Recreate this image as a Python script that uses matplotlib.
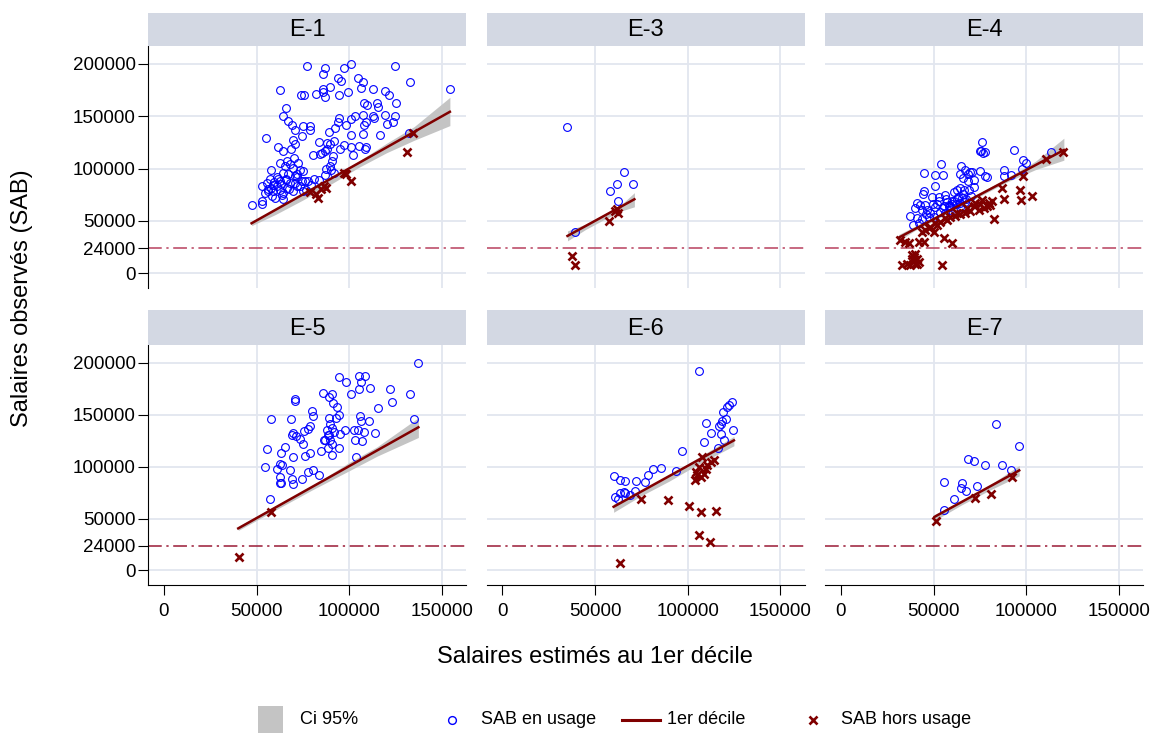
import numpy as np
import matplotlib
matplotlib.use("Agg")
import matplotlib.pyplot as plt
from matplotlib.patches import Rectangle

plt.rcParams['font.family'] = ['Liberation Sans', 'DejaVu Sans']

# ---- data (values in thousands) ----
panels = ['E-1', 'E-3', 'E-4', 'E-5', 'E-6', 'E-7']

# E-1
e1_in_x = [77.1, 87.0, 85.8, 96.9, 100.9, 124.7, 94.1, 95.3, 104.9, 107.6, 132.6, 154.3, 62.4, 74.1, 75.7, 81.8,
           85.8, 86.7, 89.7, 85.8, 94.4, 99.3, 106.3, 112.8, 119.5, 121.6, 108.0, 109.8, 115.0, 115.5, 125.4, 66.0,
           64.2, 66.7, 69.0, 75.0, 78.8, 78.9, 70.8, 94.6, 93.7, 92.1, 89.2, 98.0, 100.7, 103.3, 107.2, 108.9, 108.0,
           107.2, 112.6, 113.4, 119.5, 124.5, 123.5, 120.4, 116.6, 101.1, 55.2, 61.3, 69.6, 70.8, 68.5, 64.5, 74.6,
           83.8, 88.0, 89.8, 91.6, 88.0, 85.3, 80.2, 84.0, 86.7, 95.2, 97.0, 100.9, 105.1, 109.0, 108.7, 101.8, 91.2,
           90.8, 89.4, 90.3, 86.9, 57.9, 62.4, 65.1, 66.3, 67.8, 64.5, 65.6, 69.9, 72.6, 73.2, 75.3, 70.8, 62.4, 58.8,
           55.5, 52.8, 60.9, 62.7, 59.1, 56.4, 54.6, 63.6, 66.3, 68.1, 71.7, 74.4, 76.2, 78.0, 75.3, 69.9, 60.0, 64.5,
           52.8, 52.8, 47.4, 83.6, 87.6, 91.6, 71.7, 132.1, 58.0, 61.0, 67.0, 72.0, 57.0, 63.0, 66.0, 70.0,
           59.5, 61.5, 64.0, 67.5, 70.5, 73.5, 76.5, 79.5, 81.0, 56.0, 58.5]
e1_in_y = [197.5, 195.6, 190.5, 195.6, 200.1, 197.8, 186.6, 183.4, 186.6, 182.4, 182.8, 175.7, 175.1, 170.6, 170.6,
           170.9, 176.3, 168.6, 177.6, 172.8, 169.9, 173.1, 177.0, 176.3, 174.4, 169.9, 162.2, 161.0, 162.9, 159.0,
           162.2, 157.4, 150.0, 145.6, 141.7, 140.4, 141.1, 136.6, 136.6, 148.1, 144.9, 138.5, 135.0, 141.7, 147.5,
           150.0, 151.3, 144.0, 141.7, 133.4, 150.4, 148.1, 151.0, 150.0, 144.3, 142.4, 132.1, 132.1, 129.5, 120.2,
           127.0, 123.8, 118.9, 116.7, 131.1, 125.7, 124.7, 123.7, 126.3, 118.3, 115.1, 112.9, 114.1, 116.4, 118.3,
           122.5, 120.6, 121.8, 120.2, 118.3, 112.8, 111.9, 107.1, 102.3, 99.1, 94.3, 99.1, 105.5, 102.3, 107.1, 103.9,
           95.9, 89.4, 100.7, 105.5, 99.1, 97.5, 92.6, 88.5, 84.6, 86.2, 83.7, 83.0, 79.8, 78.2, 78.2, 76.6, 75.0,
           81.4, 86.2, 83.0, 87.8, 87.8, 87.8, 78.9, 78.2, 71.8, 71.2, 68.6, 66.4, 65.4, 89.4, 99.7, 95.9, 95.2,
           133.7, 81.0, 92.0, 95.0, 92.0, 90.0, 85.0, 90.0, 110.0,
           87.0, 90.5, 77.0, 80.5, 86.0, 83.0, 80.0, 84.5, 90.5, 80.5, 74.0]
e1_out_x = [134.3, 131.1, 101.1, 97.0, 98.4, 86.5, 84.9, 83.4, 82.3, 87.6, 79.0]
e1_out_y = [134.0, 116.0, 88.0, 96.0, 95.0, 83.2, 80.5, 72.0, 76.0, 81.4, 78.0]
e1_fit_x = [47.3, 154.3]
e1_fit_y = [47.8, 154.2]
e1_ci_x = [47.3, 60, 75, 90, 105, 120, 135, 154.3]
e1_ci_lo = [45.5, 56, 70, 85, 101, 115, 127, 141]
e1_ci_hi = [49.5, 61, 76, 91, 107, 124, 140, 168]

# E-3
e3_in_x = [34.7, 65.8, 61.7, 70.7, 58.3, 62.2, 39.2]
e3_in_y = [139.8, 96.5, 85.7, 85.7, 79.0, 68.8, 39.8]
e3_out_x = [57.7, 60.8, 62.6, 61.7, 37.4, 38.9]
e3_out_y = [50.0, 59.6, 58.0, 61.2, 16.6, 7.6]
e3_fit_x = [35.1, 71.2]
e3_fit_y = [35.7, 70.7]
e3_ci_x = [35.1, 45, 55, 65, 71.2]
e3_ci_lo = [31, 42, 51.5, 60, 63.5]
e3_ci_hi = [40.5, 47, 56.5, 67, 77]

# E-4
e4_in_x = [76.2, 74.9, 76.5, 78.0, 75.6, 93.3, 113.5, 98.3, 99.6, 54.0, 64.8, 44.6, 50.6, 54.9, 64.1, 67.0, 69.5,
           68.6, 70.7, 75.3, 78.0, 78.9, 71.6, 68.4, 65.9, 87.9, 87.9, 91.8, 97.8, 50.9, 44.6, 44.3, 49.1, 52.7, 56.3,
           60.8, 62.6, 64.4, 66.2, 68.9, 41.0, 42.8, 45.5, 40.1, 43.7, 46.4, 37.4, 41.0, 43.7, 47.3, 50.0, 53.6, 55.4,
           58.1, 59.9, 62.6, 65.3, 59.0, 61.7, 64.4, 38.9, 41.9, 52.0, 55.0, 57.0, 60.0, 63.0, 66.0, 48.0, 51.0,
           56.0, 59.0, 62.0, 67.0, 70.0, 72.0, 53.0, 56.5, 58.5, 61.0, 64.0, 67.5, 49.5, 46.0]
e4_in_y = [125.4, 116.7, 115.0, 116.0, 116.5, 117.3, 116.1, 108.1, 105.5, 104.8, 102.9, 95.9, 93.6, 93.6, 95.2,
           99.0, 97.0, 95.0, 96.5, 97.5, 93.0, 92.0, 88.8, 87.8, 91.1, 99.1, 92.7, 93.9, 99.7, 83.7, 78.2, 76.0, 72.8,
           72.8, 75.0, 77.3, 79.8, 81.4, 79.8, 79.2, 67.0, 65.4, 65.4, 62.2, 60.6, 60.6, 54.8, 52.6, 51.6, 53.5, 54.2,
           59.0, 63.8, 65.4, 68.6, 70.9, 71.8, 60.6, 60.6, 63.1, 46.2, 47.8, 66.0, 62.0, 68.0, 66.0, 73.0, 76.0,
           58.0, 63.0, 58.0, 64.0, 66.0, 68.0, 74.0, 82.0, 69.0, 71.0, 63.0, 69.5, 67.0, 71.0, 66.5, 57.0]
e4_out_x = [119.9, 110.4, 98.3, 96.5, 97.4, 103.2, 87.9, 82.8, 80.7, 78.9, 81.6, 79.8, 77.1, 74.4, 71.6, 69.8, 67.1,
            64.4, 61.7, 59.0, 56.3, 53.6, 50.9, 48.2, 45.5, 43.7, 50.0, 55.4, 59.9, 41.9, 44.6, 32.0, 34.7, 36.5,
            38.3, 39.2, 41.0, 40.1, 37.4, 35.6, 32.9, 54.5, 87.0, 76.2, 75.3, 39.2, 38.3, 40.1, 41.9, 41.0, 68.0,
            72.5, 62.6, 57.2, 51.8, 47.3]
e4_out_y = [116.1, 109.3, 93.3, 79.8, 69.6, 73.4, 70.9, 51.6, 65.4, 63.8, 68.6, 67.0, 62.2, 60.6, 63.8, 59.6, 58.0,
            56.7, 54.8, 54.2, 52.6, 49.4, 47.8, 44.6, 41.3, 39.7, 39.7, 33.3, 28.5, 30.1, 30.1, 31.7, 30.1, 28.5,
            17.3, 12.5, 14.1, 9.3, 7.7, 9.3, 7.7, 7.7, 81.4, 70.2, 66.4, 15.7, 14.1, 18.9, 10.9, 8.6, 62.2, 67.0,
            57.4, 51.0, 46.2, 43.0]
e4_fit_x = [31.1, 120.3]
e4_fit_y = [34.0, 117.7]
e4_ci_x = [31.1, 40, 50, 70, 90, 105, 120.3]
e4_ci_lo = [31, 41, 50, 69, 87.5, 99, 108]
e4_ci_hi = [37, 45, 53.5, 72, 91.5, 107, 129]

# E-5
e5_in_x = [137.1, 94.4, 98.1, 105.1, 108.3, 106.5, 105.3, 111.4, 100.9, 122.2, 132.7, 123.1, 115.7, 85.8, 88.9,
           91.0, 90.7, 93.4, 94.3, 93.0, 70.5, 70.5, 79.8, 80.4, 57.7, 68.3, 106.0, 106.5, 110.7, 134.8, 88.9, 89.8,
           88.0, 90.7, 88.9, 86.2, 89.8, 91.6, 95.2, 97.9, 102.4, 104.5, 107.8, 113.7, 106.9, 103.3, 103.8, 78.6,
           77.5, 75.7, 69.9, 71.4, 69.0, 73.5, 75.0, 87.1, 88.5, 90.8, 88.5, 94.6, 84.9, 90.7, 79.0, 76.2, 69.9,
           65.3, 63.1, 55.5, 54.6, 60.9, 62.7, 63.6, 68.1, 78.0, 80.7, 83.5, 74.4, 69.0, 62.7, 62.4, 63.3, 69.4,
           57.3]
e5_in_y = [199.9, 185.9, 181.1, 187.5, 187.5, 181.1, 174.7, 175.3, 169.6, 174.4, 169.9, 161.9, 156.2, 171.2,
           166.7, 161.3, 169.9, 157.1, 150.1, 146.9, 165.1, 163.5, 153.0, 149.1, 145.3, 145.9, 148.8, 144.3, 144.3,
           145.9, 146.9, 141.2, 134.8, 137.3, 130.0, 125.2, 125.2, 133.2, 131.6, 134.8, 135.4, 135.4, 133.2, 132.5,
           124.6, 125.2, 109.2, 138.6, 136.4, 134.4, 132.2, 129.0, 130.0, 126.8, 122.0, 125.8, 130.0, 122.0, 118.2,
           118.2, 114.7, 110.8, 113.1, 110.5, 108.9, 118.8, 113.4, 116.6, 99.6, 98.0, 102.8, 101.2, 96.4, 94.9,
           97.1, 91.7, 88.5, 88.5, 90.1, 84.3, 83.7, 83.0, 68.7]
e5_out_x = [57.7, 40.5]
e5_out_y = [56.1, 13.4]
e5_fit_x = [40.1, 137.3]
e5_fit_y = [40.5, 137.8]
e5_ci_x = [40.1, 60, 80, 100, 115, 137.3]
e5_ci_lo = [38.5, 58, 77.5, 96, 110, 128]
e5_ci_hi = [42.5, 62, 81.5, 104, 119, 147]

# E-6
e6_in_x = [106.0, 124.0, 122.5, 121.3, 119.1, 120.4, 118.6, 117.7, 116.8, 109.7, 112.3, 117.7, 124.5, 108.7,
           119.5, 116.2, 97.1, 93.9, 85.8, 81.3, 78.6, 77.1, 72.1, 60.0, 63.3, 66.0, 71.4, 68.7, 65.4, 63.6, 60.9,
           62.2, 66.3]
e6_in_y = [192.2, 162.5, 159.7, 157.1, 152.9, 146.0, 143.4, 141.1, 138.9, 142.1, 132.2, 131.6, 135.4, 123.6,
           125.8, 118.1, 114.6, 95.5, 98.7, 97.4, 92.3, 85.3, 85.9, 91.0, 86.9, 85.9, 76.6, 72.5, 75.7, 74.1, 70.9,
           68.3, 74.1]
e6_out_x = [63.6, 75.0, 89.2, 100.9, 107.4, 115.5, 106.1, 111.9, 103.8, 105.1, 106.9, 108.7, 104.5, 106.0, 109.6,
            112.3, 114.1, 107.8, 110.5]
e6_out_y = [7.0, 68.6, 67.7, 61.9, 56.2, 57.5, 34.2, 27.8, 86.8, 91.6, 90.0, 93.2, 94.8, 99.6, 98.0, 104.4, 106.0,
            109.2, 101.2]
e6_fit_x = [60.0, 124.9]
e6_fit_y = [61.3, 125.2]
e6_ci_x = [60, 75, 90, 105, 124.9]
e6_ci_lo = [56, 72, 86, 101.5, 120]
e6_ci_hi = [64, 76, 92, 108, 129]

# E-7
e7_in_x = [83.5, 95.9, 68.7, 71.8, 77.9, 86.9, 91.7, 55.8, 65.5, 64.6, 67.5, 73.4, 61.2, 55.8]
e7_in_y = [141.0, 119.9, 106.9, 105.3, 101.8, 101.1, 96.3, 85.2, 84.2, 79.3, 76.5, 81.6, 68.6, 58.1]
e7_out_x = [51.1, 72.1, 81.1, 92.3]
e7_out_y = [47.2, 69.5, 73.7, 90.0]
e7_fit_x = [50.6, 96.2]
e7_fit_y = [51.7, 96.3]
e7_ci_x = [50.6, 65, 80, 96.2]
e7_ci_lo = [48, 63, 77, 91]
e7_ci_hi = [54, 67, 82, 101]

seuil = 24000
yticks = [0, 24000, 50000, 100000, 150000, 200000]
xticks = [0, 50000, 100000, 150000]

groups = {
    'E-1': (e1_in_x, e1_in_y, e1_out_x, e1_out_y, e1_fit_x, e1_fit_y, e1_ci_x, e1_ci_lo, e1_ci_hi),
    'E-3': (e3_in_x, e3_in_y, e3_out_x, e3_out_y, e3_fit_x, e3_fit_y, e3_ci_x, e3_ci_lo, e3_ci_hi),
    'E-4': (e4_in_x, e4_in_y, e4_out_x, e4_out_y, e4_fit_x, e4_fit_y, e4_ci_x, e4_ci_lo, e4_ci_hi),
    'E-5': (e5_in_x, e5_in_y, e5_out_x, e5_out_y, e5_fit_x, e5_fit_y, e5_ci_x, e5_ci_lo, e5_ci_hi),
    'E-6': (e6_in_x, e6_in_y, e6_out_x, e6_out_y, e6_fit_x, e6_fit_y, e6_ci_x, e6_ci_lo, e6_ci_hi),
    'E-7': (e7_in_x, e7_in_y, e7_out_x, e7_out_y, e7_fit_x, e7_fit_y, e7_ci_x, e7_ci_lo, e7_ci_hi),
}

# ---- style ----
W, H = 1153, 733
blue = '#0000ff'
maroon = '#800000'
ci_col = '#c4c4c4'
grid_col = '#e2e6ef'
head_col = '#d3d8e3'
ref_cols = ['#b8405e', '#9a1a36']  # dash-dot 24000 line, top row / bottom row

fig = plt.figure(figsize=(W / 100, H / 100), dpi=100)

col_left = [148, 486.5, 825]
col_w = 318
rows = [(46, 288, 13), (345, 585, 310)]  # plot top, plot bottom, header top


def px_axes(left, top, width, height):
    return fig.add_axes([left / W, 1 - (top + height) / H, width / W, height / H])


for i, name in enumerate(panels):
    r, c = divmod(i, 3)
    top, bot, htop = rows[r]
    ax = px_axes(col_left[c], top, col_w, bot - top)
    hax = px_axes(col_left[c], htop, col_w, top - htop)
    hax.set_facecolor(head_col)
    hax.set_xticks([]); hax.set_yticks([])
    for s in hax.spines.values():
        s.set_visible(False)
    hax.text(0.5, 0.47, name, ha='center', va='center', fontsize=17, transform=hax.transAxes)

    in_x, in_y, out_x, out_y, fx, fy, cx, clo, chi = groups[name]
    k = 1000.0
    ax.fill_between(np.array(cx) * k, np.array(clo) * k, np.array(chi) * k, color=ci_col, lw=0, zorder=2)
    ax.plot(np.array(in_x) * k, np.array(in_y) * k, 'o', mfc='none', mec=blue, ms=5.6, mew=0.8, zorder=3)
    ax.plot(np.array(fx) * k, np.array(fy) * k, color=maroon, lw=1.8, zorder=4)
    ax.plot(np.array(out_x) * k, np.array(out_y) * k, 'x', color=maroon, ms=5.2, mew=1.9, zorder=5)
    ax.axhline(seuil, color=ref_cols[r], lw=1.1, ls=(0, (9, 3, 1.5, 3)), zorder=1.5)

    ax.set_xlim(-8600, 163000)
    ax.set_ylim(-14000, 217000)
    for yv in [0, 50000, 100000, 150000, 200000]:
        ax.axhline(yv, color=grid_col, lw=1.3, zorder=0)
    for xv in [50000, 100000, 150000]:
        ax.axvline(xv, color=grid_col, lw=1.3, zorder=0)

    for s in ['top', 'right']:
        ax.spines[s].set_visible(False)
    ax.spines['left'].set_visible(c == 0)
    ax.spines['bottom'].set_visible(r == 1)
    ax.set_yticks(yticks)
    ax.set_xticks(xticks)
    ax.tick_params(axis='y', length=7 if c == 0 else 0, labelleft=(c == 0), labelsize=13.5, pad=2)
    ax.tick_params(axis='x', length=7 if r == 1 else 0, labelbottom=(r == 1), labelsize=13.5, pad=6)
    ax.set_yticklabels([str(v) for v in yticks])
    ax.set_xticklabels([str(v) for v in xticks])

fig.text(22 / W, 1 - 298 / H, 'Salaires observés (SAB)', rotation=90, ha='center', va='center', fontsize=17)
fig.text(595 / W, 1 - 657 / H, 'Salaires estimés au 1er décile', ha='center', va='center', fontsize=17)

# ---- legend ----
lax = fig.add_axes([0, 0, 1, 40 / H])
lax.set_xlim(0, W)
lax.set_ylim(0, 40)
lax.axis('off')
lax.add_patch(Rectangle((258, -5), 25, 32, color=ci_col, lw=0))
lax.text(300, 13, 'Ci 95%', va='center', fontsize=13)
lax.plot([452], [13], 'o', mfc='none', mec=blue, ms=5.6, mew=1.0)
lax.text(481, 13, 'SAB en usage', va='center', fontsize=13)
lax.plot([622, 660], [13, 13], color=maroon, lw=2.2)
lax.text(667, 13, '1er décile', va='center', fontsize=13)
lax.plot([813], [13], 'x', color=maroon, ms=5.2, mew=1.9)
lax.text(841, 13, 'SAB hors usage', va='center', fontsize=13)

fig.savefig('out.png', dpi=100)
